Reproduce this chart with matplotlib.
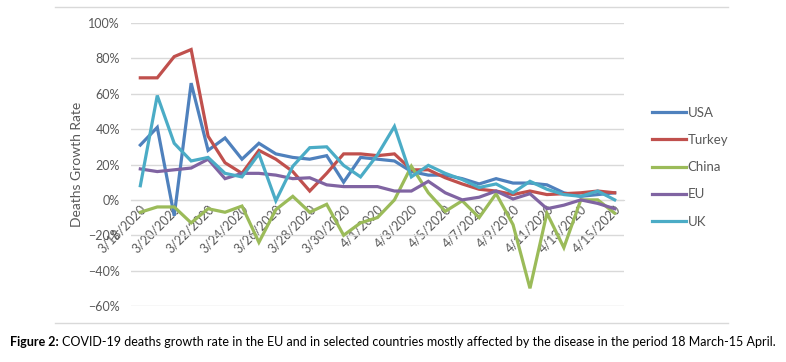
import numpy as np
import matplotlib.pyplot as plt
from matplotlib.lines import Line2D
from matplotlib.ticker import PercentFormatter

plt.rcParams['font.family'] = ['Lato', 'DejaVu Sans']

dates = ['3/18/2020', '3/19/2020', '3/20/2020', '3/21/2020', '3/22/2020', '3/23/2020',
         '3/24/2020', '3/25/2020', '3/26/2020', '3/27/2020', '3/28/2020', '3/29/2020',
         '3/30/2020', '3/31/2020', '4/1/2020', '4/2/2020', '4/3/2020', '4/4/2020',
         '4/5/2020', '4/6/2020', '4/7/2020', '4/8/2020', '4/9/2020', '4/10/2020',
         '4/11/2020', '4/12/2020', '4/13/2020', '4/14/2020', '4/15/2020']

usa = [31, 41, -9, 66, 28, 35, 23, 32, 26, 24, 23, 25, 10, 24, 23, 22, 16, 14, 14,
       12, 9, 12, 9.5, 9.5, 8.5, 4, 2, 3, 4]
turkey = [69, 69, 81, 85, 36, 21, 15, 28, 23, 16, 5, 15, 26, 26, 25, 26, 17, 17, 12.5,
          9, 6, 5, 3, 5, 3, 3.5, 4, 5, 4]
china = [-7, -4, -4, -13, -5, -7, -3.5, -24, -5.5, 2, -7, -2.5, -20, -13, -10, 0, 19,
         4, -6.5, -0.5, -10, 3.5, -14, -50, -7.5, -27, 0, 0, -7.5]
eu = [17.5, 16, 17, 18, 23, 12, 15, 15, 14, 12, 12.5, 8.5, 7.5, 7.5, 7.5, 5, 5, 10.5,
      4, 0, 1.5, 5, 0.5, 3.5, -5, -3, 0, -2, -5]
uk = [8, 59, 32, 22, 24, 15, 13, 26, -0.5, 19, 29.5, 30, 19.5, 13, 25.5, 41.5, 13,
      19.5, 15, 11.5, 7, 9, 4, 10.5, 6, 3, 2, 5, 0]

names = ['USA', 'Turkey', 'China', 'EU', 'UK']
colors = ['#4F81BD', '#C0504D', '#9BBB59', '#8064A2', '#4BACC6']

fig = plt.figure(figsize=(7.86, 3.62), dpi=100)
ax = fig.add_axes([131 / 786, 1 - 306 / 362, (624 - 131) / 786, (306 - 23) / 362])

x = np.arange(len(dates))
for vals, c in zip([usa, turkey, china, eu, uk], colors):
    ax.plot(x, vals, color=c, lw=2.3, solid_joinstyle='miter', zorder=3)

ax.set_xlim(-0.55, len(dates) - 0.45)
ax.set_ylim(-60, 100)
ax.set_yticks(np.arange(-60, 101, 20))
ax.yaxis.set_major_formatter(PercentFormatter(decimals=0))
ax.grid(axis='y', color='#D9D9D9', lw=1)
ax.set_axisbelow(True)
for s in ['top', 'right', 'left']:
    ax.spines[s].set_visible(False)
ax.spines['bottom'].set_position(('data', 0))
ax.spines['bottom'].set_color('#D9D9D9')
ax.tick_params(axis='y', length=0, labelsize=9, labelcolor='#595959', pad=8)
ax.tick_params(axis='x', length=0, labelsize=9, labelcolor='#595959', pad=2)
ax.set_xticks(x[::2])
ax.set_xticklabels(dates[::2], rotation=45, ha='right', rotation_mode='anchor')
ax.set_ylabel('Deaths Growth Rate', fontsize=10, color='#595959', labelpad=4)

handles = [Line2D([], [], color=c, lw=2.3) for c in colors]
leg = fig.legend(handles, names, loc='upper left', bbox_to_anchor=(640 / 786, 1 - 95 / 362),
                 frameon=False, fontsize=9.5, handlelength=2.6, handletextpad=0.1,
                 labelspacing=1.15, labelcolor='#595959')

# chart border lines (top / bottom only, like the source)
fig.add_artist(Line2D([55 / 786, 728 / 786], [1 - 7 / 362] * 2, color='#D9D9D9', lw=1))
fig.add_artist(Line2D([55 / 786, 728 / 786], [1 - 323 / 362] * 2, color='#D9D9D9', lw=1))

fig.text(10 / 786, 1 - 342 / 362, 'Figure 2:', fontsize=9, fontweight='bold', va='center')
fig.text(62 / 786, 1 - 342 / 362,
         'COVID-19 deaths growth rate in the EU and in selected countries mostly affected by the disease in the period 18 March-15 April.',
         fontsize=9, va='center')

fig.savefig('out.png', dpi=100)
